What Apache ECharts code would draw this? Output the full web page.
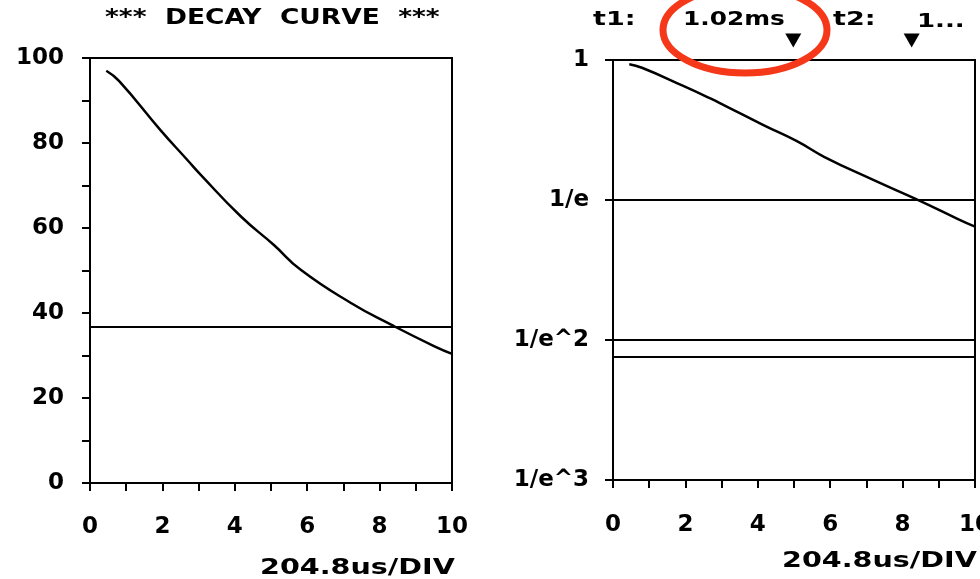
<!DOCTYPE html>
<html>
<head>
<meta charset="utf-8">
<script src="https://cdn.jsdelivr.net/npm/echarts@6/dist/echarts.min.js"></script>
<style>
  html, body { margin: 0; padding: 0; background: #fff; }
  #chart { width: 980px; height: 579px; }
</style>
</head>
<body>
<div id="chart"></div>
<script>
// time in divisions (204.8us/DIV) and relative amplitude in %
const divs = [0.45, 0.8, 1.94, 2.69, 3.06, 4.17, 5.08, 5.83, 7.22, 8.33, 9.53, 10.0]
const amplitude = [97, 94.6, 83.1, 76, 72.5, 62.7, 56, 50.1, 42.3, 37.2, 32.1, 30.4]
const linRefLine = [36.8]
const logRefLines = [-1, -2, -2.12]
const cursors = [4.98, 8.25]
const logTickLabels = { '0': '1', '-1': '1/e', '-2': '1/e^2', '-3': '1/e^3' }

const chart = echarts.init(document.getElementById('chart'))

const ink = '#000'
const labelFont = {
  color: ink,
  fontFamily: 'DejaVu Sans',
  fontWeight: 'bold',
  fontSize: 23
}

const linData = divs.map((d, i) => [d, amplitude[i]])
const logData = divs.map((d, i) => [d, Math.log(amplitude[i] / 100)])

function xAxisCfg(gridIndex, margin) {
  return {
    type: 'value',
    gridIndex: gridIndex,
    min: 0,
    max: 10,
    interval: 1,
    axisLine: { onZero: false, lineStyle: { color: ink, width: 2 } },
    axisTick: { length: 8, lineStyle: { color: ink, width: 2 } },
    axisLabel: Object.assign({}, labelFont, {
      margin: margin,
      formatter: v => (v % 2 === 0 ? String(v) : '')
    }),
    splitLine: { show: false }
  }
}

function printText(x, y, text, size, scaleX) {
  return {
    type: 'text',
    x: x,
    y: y,
    scaleX: scaleX,
    style: {
      text: text,
      fill: ink,
      font: 'bold ' + size + 'px "DejaVu Sans"',
      align: 'left',
      verticalAlign: 'middle'
    }
  }
}

const option = {
  backgroundColor: '#fff',
  animation: false,
  grid: [
    { left: 90, top: 58, width: 362, height: 425, show: true, borderColor: ink, borderWidth: 2, outerBoundsMode: 'none' },
    { left: 613, top: 60, width: 362, height: 420, show: true, borderColor: ink, borderWidth: 2, outerBoundsMode: 'none' }
  ],
  xAxis: [xAxisCfg(0, 33), xAxisCfg(1, 34)],
  yAxis: [
    {
      type: 'value',
      gridIndex: 0,
      min: 0,
      max: 100,
      interval: 10,
      axisLine: { show: true, onZero: false, lineStyle: { color: ink, width: 2 } },
      axisTick: { show: true, length: 8, lineStyle: { color: ink, width: 2 } },
      axisLabel: Object.assign({}, labelFont, {
        margin: 26,
        formatter: v => (v % 20 === 0 ? String(v) : '')
      }),
      splitLine: { show: false }
    },
    {
      type: 'value',
      gridIndex: 1,
      min: -3,
      max: 0,
      interval: 1,
      axisLine: { show: true, onZero: false, lineStyle: { color: ink, width: 2 } },
      axisTick: { show: true, length: 8, lineStyle: { color: ink, width: 2 } },
      axisLabel: Object.assign({}, labelFont, {
        margin: 24,
        formatter: v => logTickLabels[String(v)] || ''
      }),
      splitLine: { show: false }
    }
  ],
  series: [
    {
      name: 'decay',
      type: 'line',
      xAxisIndex: 0,
      yAxisIndex: 0,
      data: linData,
      smooth: true,
      showSymbol: false,
      lineStyle: { color: ink, width: 2.5 },
      markLine: {
        silent: true,
        symbol: 'none',
        label: { show: false },
        lineStyle: { color: ink, width: 2, type: 'solid' },
        data: linRefLine.map(v => ({ yAxis: v }))
      }
    },
    {
      name: 'decay log',
      type: 'line',
      xAxisIndex: 1,
      yAxisIndex: 1,
      data: logData,
      smooth: true,
      showSymbol: false,
      lineStyle: { color: ink, width: 2.5 },
      markLine: {
        silent: true,
        symbol: 'none',
        label: { show: false },
        lineStyle: { color: ink, width: 2, type: 'solid' },
        data: logRefLines.map(v => ({ yAxis: v }))
      }
    },
    {
      name: 'cursors',
      type: 'scatter',
      xAxisIndex: 1,
      yAxisIndex: 1,
      clip: false,
      symbol: 'triangle',
      symbolRotate: 180,
      symbolSize: [16, 14],
      itemStyle: { color: ink, opacity: 1 },
      data: cursors.map(c => [c, 0.14])
    }
  ],
  graphic: [
    printText(105, 19, '***  DECAY  CURVE  ***', 21, 1.26),
    printText(260, 568, '204.8us/DIV', 22, 1.3),
    printText(782, 561, '204.8us/DIV', 22, 1.3),
    printText(593, 20, 't1:', 20, 1.35),
    printText(683, 20, '1.02ms', 20, 1.24),
    printText(833, 20, 't2:', 20, 1.35),
    printText(917, 22, '1...', 20, 1.3),
    {
      type: 'ellipse',
      shape: { cx: 745, cy: 30, rx: 82, ry: 43 },
      style: { fill: 'none', stroke: '#f5381a', lineWidth: 7 }
    }
  ]
}

chart.setOption(option)
</script>
</body>
</html>
